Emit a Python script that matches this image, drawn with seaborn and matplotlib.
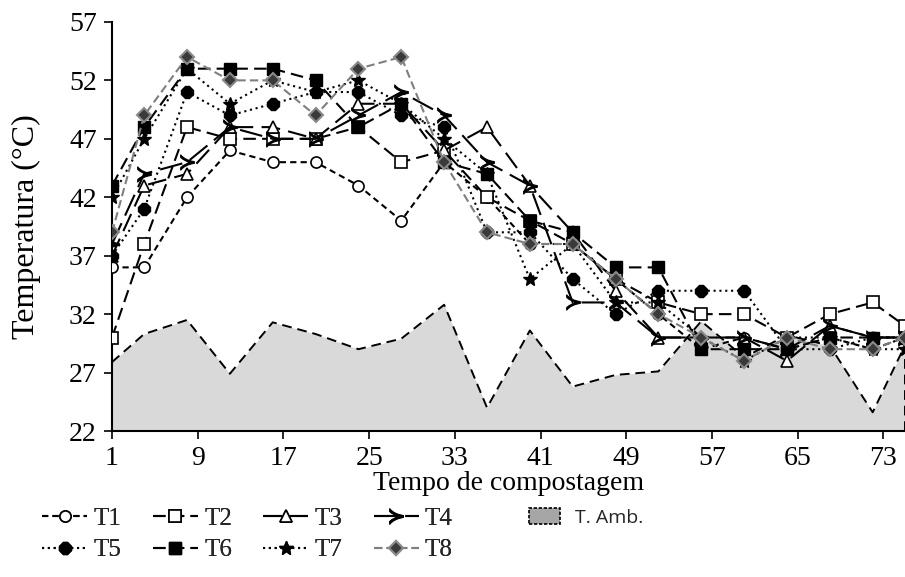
import matplotlib
matplotlib.use("Agg")
import matplotlib.pyplot as plt
import matplotlib.patches as mpatches
import seaborn as sns
import numpy as np
import pandas as pd

days = [1, 4, 8, 12, 16, 20, 24, 28, 32, 36, 40, 44, 48, 52, 56, 60, 64, 68, 72, 75]
t1 = [36, 36, 42, 46, 45, 45, 43, 40, 45, 42, 38, 38, 35, 32, 29, 30, 29, 30, 29, 30]
t2 = [30, 38, 48, 47, 47, 47, 48, 45, 46, 42, 40, 38, 35, 33, 32, 32, 30, 32, 33, 31]
t3 = [37, 43, 44, 48, 48, 47, 50, 50, 46, 48, 43, 39, 34, 30, 30, 30, 28, 31, 30, 30]
t4 = [38, 44, 45, 48, 47, 47, 49, 51, 49, 45, 43, 33, 33, 30, 30, 30, 29, 31, 30, 30]
t5 = [37, 41, 51, 49, 50, 51, 51, 49, 48, 39, 39, 35, 32, 34, 34, 34, 29, 29, 30, 30]
t6 = [43, 48, 53, 53, 53, 52, 48, 50, 45, 44, 40, 39, 36, 36, 29, 29, 29, 30, 30, 30]
t7 = [42, 47, 53, 50, 52, 51, 52, 50, 47, 44, 35, 38, 33, 33, 30, 28, 30, 30, 29, 29]
t8 = [39, 49, 54, 52, 52, 49, 53, 54, 45, 39, 38, 38, 35, 32, 30, 28, 30, 29, 29, 30]
t_amb = [27.9, 30.3, 31.5, 26.9, 31.3, 30.3, 29.0, 29.9, 32.8, 24.0, 30.6, 25.8,
         26.8, 27.1, 31.4, 28.3, 30.2, 29.3, 23.6, 29.3]
series_names = ["T1", "T2", "T3", "T4", "T5", "T6", "T7", "T8"]
series_vals = [t1, t2, t3, t4, t5, t6, t7, t8]
x_ticks = [1, 9, 17, 25, 33, 41, 49, 57, 65, 73]
y_ticks = [22, 27, 32, 37, 42, 47, 52, 57]

sns.set_theme(style="white")
plt.rcParams["font.family"] = ["Liberation Serif", "DejaVu Serif"]

fig = plt.figure(figsize=(9.05, 5.77), dpi=100)
ax = fig.add_axes([0.1238, 0.253, 0.876, 0.709])

# ambient temperature area
ax.fill_between(days, 22, t_amb, color="#d9d9d9", lw=0, zorder=1)
ax.plot(days, t_amb, color="black", lw=1.4, ls=(0, (5, 3)), zorder=2)
ax.plot([days[-1], days[-1]], [22, t_amb[-1]], color="black", lw=1.4, ls=(0, (5, 3)), zorder=2)

styles = {
    "T1": dict(color="black", ls=(0, (3, 2)), marker="o", mfc="white", mec="black", ms=8, mew=1.2),
    "T2": dict(color="black", ls=(0, (6, 3)), marker="s", mfc="white", mec="black", ms=8, mew=1.2),
    "T3": dict(color="black", ls=(0, (9, 4)), marker="^", mfc="white", mec="black", ms=8, mew=1.2),
    "T4": dict(color="black", ls=(0, (11, 4)), marker=r"$\succ$", mfc="black", mec="black", ms=11, mew=0.8),
    "T5": dict(color="black", ls=(0, (1, 1.8)), marker="8", mfc="black", mec="black", ms=9, mew=1),
    "T6": dict(color="black", ls=(0, (6, 3)), marker="s", mfc="black", mec="black", ms=9, mew=1),
    "T7": dict(color="black", ls=(0, (1, 1.8)), marker="*", mfc="black", mec="black", ms=10, mew=1),
    "T8": dict(color="#7f7f7f", ls=(0, (4, 2)), marker="D", mfc="#3a3a3a", mec="#8a8a8a", ms=7, mew=1.5),
}

handles = {}
for name, vals in zip(series_names, series_vals):
    st = styles[name]
    df = pd.DataFrame({"dia": days, "temp": vals})
    sns.lineplot(data=df, x="dia", y="temp", ax=ax, color=st["color"], lw=1.5,
                 linestyle=st["ls"], marker=st["marker"], markerfacecolor=st["mfc"],
                 markeredgecolor=st["mec"], markersize=st["ms"], markeredgewidth=st["mew"],
                 zorder=3, legend=False)
    handles[name] = ax.lines[-1]

ax.set_xlim(1, 75)
ax.set_ylim(22, 57)
ax.set_xticks(x_ticks)
ax.set_yticks(y_ticks)
ax.tick_params(axis="both", labelsize=20, direction="out", length=6, width=1.2,
               bottom=True, left=True, colors="black")
ax.tick_params(axis="x", pad=5)
ax.tick_params(axis="y", pad=5)
for s in ["top", "right"]:
    ax.spines[s].set_visible(False)
for s in ["left", "bottom"]:
    ax.spines[s].set_color("black")
    ax.spines[s].set_linewidth(1.5)
ax.set_xlabel("Tempo de compostagem", fontsize=20, color="black", labelpad=0)
ax.set_ylabel("Temperatura (°C)", fontsize=23, color="black", labelpad=20)
ax.grid(False)

order = ["T1", "T5", "T2", "T6", "T3", "T7", "T4", "T8"]
h = [handles[n] for n in order]
leg = fig.legend(h, order, ncol=4, loc="lower left", bbox_to_anchor=(0.022, -0.012),
                 frameon=False, fontsize=18, handlelength=1.8, columnspacing=1.25,
                 labelspacing=0.35, handletextpad=0.25)
fig.add_artist(leg)

amb_patch = mpatches.Patch(facecolor="#a6a6a6", edgecolor="black", ls=(0, (2, 1)), lw=1.2)
leg2 = fig.legend([amb_patch], ["T. Amb."], loc="center left",
                  bbox_to_anchor=(0.565, 0.103), frameon=False, handlelength=1.6,
                  handleheight=0.9, handletextpad=0.8,
                  prop={"family": ["Open Sans", "DejaVu Sans"], "size": 14})

fig.savefig("out.png", dpi=100)
